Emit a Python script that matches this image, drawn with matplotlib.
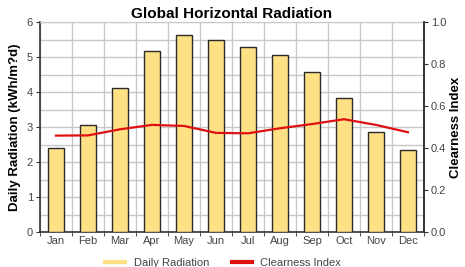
import matplotlib
matplotlib.use("Agg")
import matplotlib.pyplot as plt
import numpy as np
from matplotlib.lines import Line2D

plt.rcParams['font.family'] = ['Liberation Sans', 'DejaVu Sans']

months = ["Jan", "Feb", "Mar", "Apr", "May", "Jun", "Jul", "Aug", "Sep", "Oct", "Nov", "Dec"]
daily_radiation = [2.40, 3.05, 4.12, 5.18, 5.62, 5.50, 5.28, 5.07, 4.57, 3.83, 2.87, 2.33]
clearness_index = [0.459, 0.460, 0.489, 0.510, 0.505, 0.472, 0.470, 0.494, 0.514, 0.537, 0.510, 0.475]
left_ticks = [0, 1, 2, 3, 4, 5, 6]
right_ticks = [0.0, 0.2, 0.4, 0.6, 0.8, 1.0]

fig = plt.figure(figsize=(4.65, 2.67), dpi=100)
ax = fig.add_axes([40/465, 1-232/267, 384/465, 210/267])
x = np.arange(len(months))
bar_color = "#FFE085"
ax.bar(x, daily_radiation, width=0.47, color=bar_color, edgecolor="#2a2a2a", linewidth=1.0, zorder=3)
ax.set_xlim(-0.5, 11.5)
ax.set_ylim(0, 6)
ax.set_yticks(left_ticks)
ax.set_yticks(np.arange(0.5, 6, 1.0), minor=True)
ax.set_xticks(x)
ax.set_xticklabels(months)
ax.set_xticks(np.arange(-0.5, 12, 1.0), minor=True)
ax.grid(True, which='minor', axis='x', color="#c8c8c8", linewidth=1.0, zorder=0)
ax.grid(True, which='both', axis='y', color="#c8c8c8", linewidth=1.0, zorder=0)
ax.tick_params(axis='x', which='major', length=0, labelsize=8, labelcolor="#444444", pad=3)
ax.tick_params(axis='x', which='minor', length=3, color="#333333")
ax.tick_params(axis='y', which='major', length=3, labelsize=8, labelcolor="#444444", color="#333333", pad=2)
ax.tick_params(axis='y', which='minor', length=0)
for s in ['left', 'bottom']:
    ax.spines[s].set_color("#333333")
    ax.spines[s].set_linewidth(1.2)
ax.spines['top'].set_color("#c8c8c8")
ax.spines['right'].set_color("#333333")
ax.spines['right'].set_linewidth(1.2)
ax.set_ylabel("Daily Radiation (kWh/m?d)", fontsize=9.5, fontweight='bold', labelpad=4)
ax.set_title("Global Horizontal Radiation", fontsize=11, fontweight='bold', pad=3)

ax2 = ax.twinx()
ax2.plot(x, clearness_index, color="#e01010", linewidth=1.6, zorder=4)
ax2.set_ylim(0, 1.0)
ax2.set_yticks(right_ticks)
ax2.set_yticklabels([f"{v:.1f}" for v in right_ticks])
ax2.tick_params(axis='y', length=3, labelsize=8, labelcolor="#444444", color="#333333", pad=2)
for s in ['left', 'bottom', 'top']:
    ax2.spines[s].set_visible(False)
ax2.spines['right'].set_color("#333333")
ax2.spines['right'].set_linewidth(1.2)
ax2.set_ylabel("Clearness Index", fontsize=9.5, fontweight='bold', labelpad=3)

handles = [Line2D([0], [0], color=bar_color, linewidth=3),
           Line2D([0], [0], color="#e01010", linewidth=3)]
fig.legend(handles, ["Daily Radiation", "Clearness Index"], loc='lower center',
           bbox_to_anchor=(0.48, -0.04), ncol=2, frameon=False, fontsize=8,
           handlelength=1.8, columnspacing=2.0, labelcolor="#444444")

fig.savefig("out.png", dpi=100)
